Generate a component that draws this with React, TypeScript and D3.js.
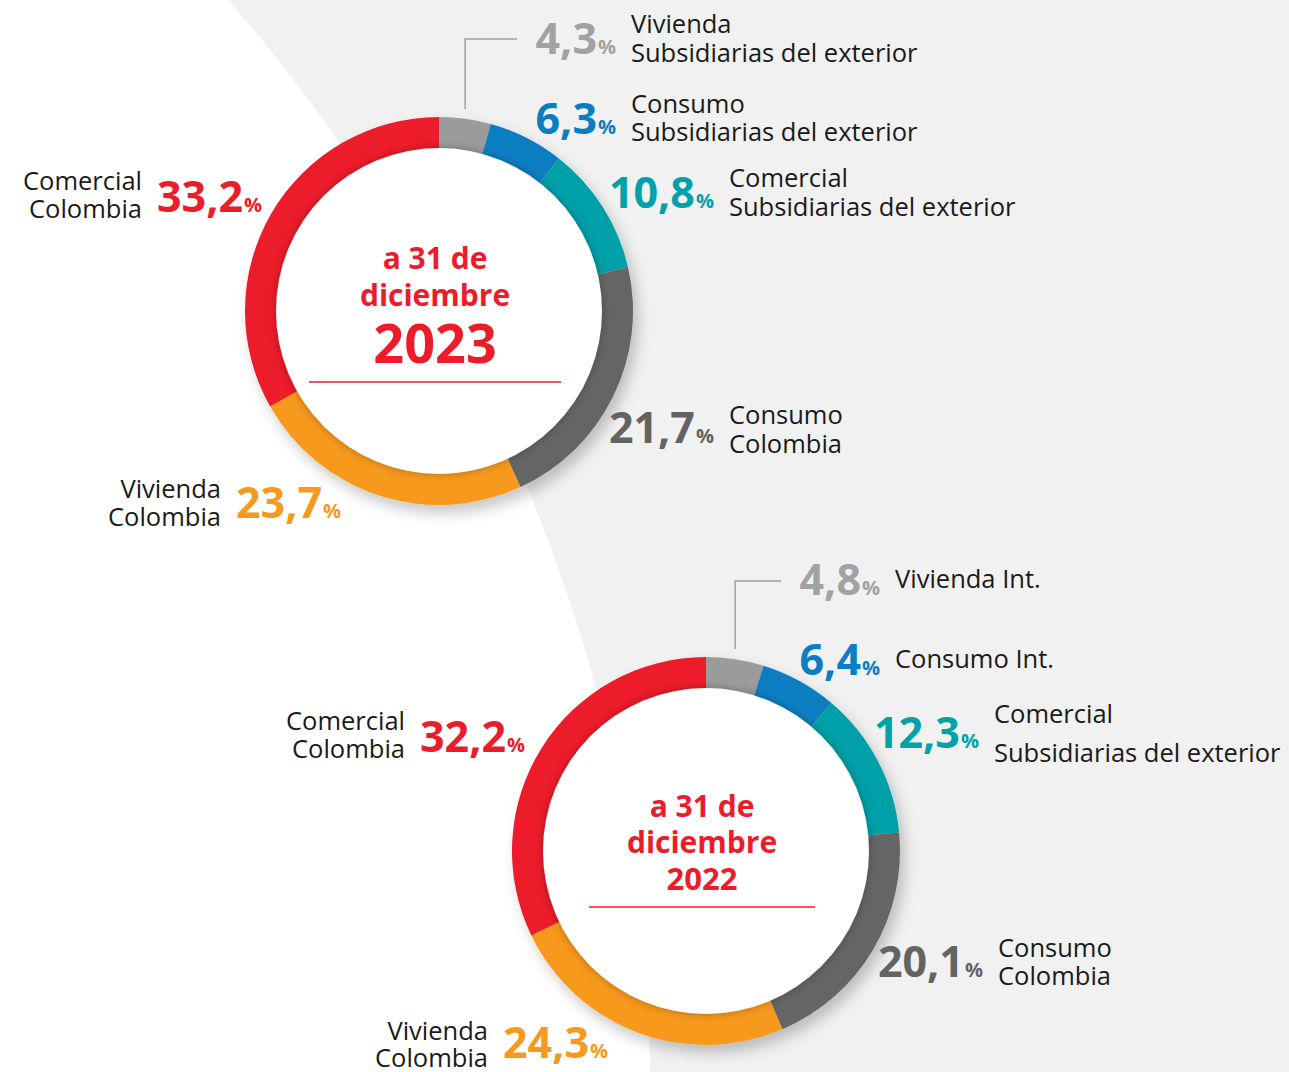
import * as d3 from "d3";

const categories = ["Vivienda Subsidiarias", "Consumo Subsidiarias", "Comercial Subsidiarias", "Consumo Colombia", "Vivienda Colombia", "Comercial Colombia"];
const values2023 = [4.3, 6.3, 10.8, 21.7, 23.7, 33.2];
const values2022 = [4.8, 6.4, 12.3, 20.1, 24.3, 32.2];
const labels2023 = [
  ["Vivienda", "Subsidiarias del exterior"],
  ["Consumo", "Subsidiarias del exterior"],
  ["Comercial", "Subsidiarias del exterior"],
  ["Consumo", "Colombia"],
  ["Vivienda", "Colombia"],
  ["Comercial", "Colombia"],
];
const labels2022 = [
  ["Vivienda Int."],
  ["Consumo Int."],
  ["Comercial", "Subsidiarias del exterior"],
  ["Consumo", "Colombia"],
  ["Vivienda", "Colombia"],
  ["Comercial", "Colombia"],
];
const titles2023 = ["a 31 de", "diciembre", "2023"];
const titles2022 = ["a 31 de", "diciembre", "2022"];

const sliceColors = ["#9b9b9b", "#0a7dc2", "#00a0a9", "#656565", "#f7991f", "#ed1c2b"];
const numberColors = ["#a2a2a2", "#0b7ec3", "#00a2aa", "#636363", "#f59a1e", "#ed1c2b"];

// label placement, relative to the donut centre
const layout2023 = [
  { side: "right", dx: 177, dy: -257, lines: [-21, 8] },
  { side: "right", dx: 177, dy: -177, lines: [-21, 7] },
  { side: "right", dx: 275, dy: -103, lines: [-21, 8] },
  { side: "right", dx: 275, dy: 132, lines: [-19, 10] },
  { side: "left", dx: -218, dy: 207, lines: [-20, 8] },
  { side: "left", dx: -297, dy: -99, lines: [-22, 6] },
];
const layout2022 = [
  { side: "right", dx: 174, dy: -256, lines: [-7] },
  { side: "right", dx: 174, dy: -176, lines: [-7] },
  { side: "right", dx: 273, dy: -103, lines: [-25, 14] },
  { side: "right", dx: 277, dy: 126, lines: [-20, 8] },
  { side: "left", dx: -218, dy: 207, lines: [-18, 9] },
  { side: "left", dx: -301, dy: -99, lines: [-22, 6] },
];

const W = 1289;
const H = 1072;
const R_OUT = 194;
const R_IN = 163;
const FONT = "'Open Sans', 'Noto Sans', sans-serif";

const fmt = (v: number) => v.toFixed(1).replace(".", ",");

function Donut({ cx, cy, values, labels, layout, titles, big, leaderTop }) {
  const pie = d3.pie<number>().sort(null).value((d) => d);
  const arcs = pie(values);
  const arc = d3.arc<d3.PieArcDatum<number>>().innerRadius(R_IN - 2).outerRadius(R_OUT);

  const g = arcs[0];
  const mid = (g.startAngle + g.endAngle) / 2;
  const lx = R_OUT * Math.sin(mid);
  const lay0 = layout[0];

  const ty = big ? [-42, -5, 52] : [-34, 2, 39];
  const tsize = big ? [30, 30, 54] : [30, 30, 31];
  const lineY = big ? 71 : 56;
  const lineHalf = big ? 126 : 113;

  return (
    <g transform={`translate(${cx},${cy})`}>
      <g filter="url(#ringShadow)">
        {arcs.map((a, i) => (
          <path key={categories[i]} d={arc(a) || ""} fill={sliceColors[i]} />
        ))}
      </g>
      <circle r={R_IN} fill="#fff" filter="url(#innerShadow)" />
      <path
        d={`M${lx},${-(R_OUT + 8)}V${lay0.dy - leaderTop}H${lay0.dx - 99}`}
        fill="none"
        stroke="#a0a0a0"
        strokeWidth={1.5}
      />
      {arcs.map((a, i) => {
        const l = layout[i];
        const right = l.side === "right";
        const numX = right ? l.dx : l.dx + 15;
        const txtX = right ? l.dx + 15 : l.dx;
        return (
          <g key={`lab-${categories[i]}`}>
            <text
              x={numX}
              y={l.dy}
              textAnchor={right ? "end" : "start"}
              fill={numberColors[i]}
              fontFamily={FONT}
              fontWeight={700}
            >
              <tspan fontSize={43}>{fmt(a.data)}</tspan>
              <tspan fontSize={20} dx={1}>%</tspan>
            </text>
            {labels[i].map((t, j) => (
              <text
                key={t}
                x={txtX}
                y={l.dy + l.lines[j]}
                textAnchor={right ? "start" : "end"}
                fill="#1a1a1a"
                fontFamily={FONT}
                fontSize={25.5}
              >
                {t}
              </text>
            ))}
          </g>
        );
      })}
      {titles.map((t, i) => (
        <text
          key={t}
          x={-4}
          y={ty[i]}
          textAnchor="middle"
          fill="#ed1c2b"
          fontFamily={FONT}
          fontWeight={700}
          fontSize={tsize[i]}
        >
          {t}
        </text>
      ))}
      <line x1={-4 - lineHalf} x2={-4 + lineHalf} y1={lineY} y2={lineY} stroke="#ed1c2b" strokeWidth={1.5} />
    </g>
  );
}

export default function App() {
  return (
    <svg
      width={W}
      height={H}
      viewBox={`0 0 ${W} ${H}`}
      style={{ position: "absolute", left: 0, top: 0, background: "#fff" }}
    >
      <defs>
        <filter id="ringShadow" x="-30%" y="-30%" width="160%" height="160%">
          <feDropShadow dx={5} dy={8} stdDeviation={7} floodColor="#000" floodOpacity={0.22} />
        </filter>
        <filter id="innerShadow" x="-20%" y="-20%" width="140%" height="140%">
          <feDropShadow dx={0} dy={0} stdDeviation={4} floodColor="#000" floodOpacity={0.3} />
        </filter>
      </defs>
      <path d={`M228,0C435,235 650,640 650,${H}L${W},${H}L${W},0Z`} fill="#f1f1f1" />
      <Donut cx={439} cy={311} values={values2023} labels={labels2023} layout={layout2023} titles={titles2023} big leaderTop={15} />
      <Donut cx={706} cy={851} values={values2022} labels={labels2022} layout={layout2022} titles={titles2022} big={false} leaderTop={14} />
    </svg>
  );
}
